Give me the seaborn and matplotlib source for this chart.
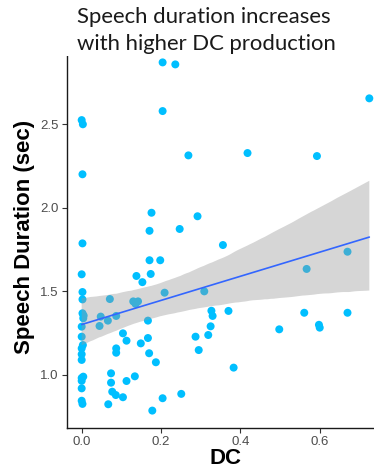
import numpy as np
import pandas as pd
import matplotlib
matplotlib.use("Agg")
import matplotlib.pyplot as plt
import seaborn as sns
from matplotlib.patches import Rectangle

# ---- data ----
dc_zero = [0.000, 0.003, 0.002, 0.002, 0.000, 0.002, 0.002, 0.002, 0.005, 0.004, 0.000,
           0.000, 0.003, 0.000, 0.000, 0.000, 0.004, 0.000, 0.000, 0.000, 0.000, 0.002]
dur_zero = [2.524, 2.499, 2.200, 1.787, 1.602, 1.496, 1.452, 1.369, 1.355, 1.339, 1.289,
            1.229, 1.179, 1.159, 1.124, 1.090, 0.990, 0.982, 0.965, 0.920, 0.846, 0.827]

dc_low = [0.048, 0.045, 0.066, 0.071, 0.087, 0.104, 0.113, 0.087, 0.087, 0.074, 0.074, 0.113,
          0.134, 0.077, 0.086, 0.104, 0.067, 0.138, 0.153, 0.130, 0.136, 0.142, 0.135]
dur_low = [1.349, 1.293, 1.325, 1.454, 1.353, 1.249, 1.205, 1.159, 1.133, 1.010, 0.954, 0.964,
           0.992, 0.900, 0.880, 0.867, 0.825, 1.592, 1.555, 1.440, 1.425, 1.440, 1.430]

dc_mid = [0.174, 0.149, 0.167, 0.167, 0.170, 0.187, 0.204, 0.178, 0.209, 0.176, 0.171,
          0.171, 0.198, 0.204, 0.204, 0.236]
dur_mid = [1.604, 1.189, 1.325, 1.221, 1.130, 1.076, 0.861, 0.787, 1.492, 1.970, 1.862,
           1.686, 1.686, 2.578, 2.869, 2.857]

dc_high = [0.247, 0.251, 0.269, 0.292, 0.356, 0.418, 0.593, 0.725, 0.670, 0.567, 0.309, 0.327,
           0.330, 0.370, 0.561, 0.670, 0.325, 0.598, 0.600, 0.498, 0.287, 0.319, 0.295, 0.383]
dur_high = [1.873, 0.887, 2.313, 1.949, 1.777, 2.327, 2.309, 2.654, 1.737, 1.634, 1.500, 1.384,
            1.353, 1.383, 1.372, 1.372, 1.291, 1.300, 1.283, 1.273, 1.229, 1.239, 1.149, 1.044]

x_ticks = [0.0, 0.2, 0.4, 0.6]
x_ticklabels = ["0.0", "0.2", "0.4", "0.6"]
y_ticks = [1.0, 1.5, 2.0, 2.5]
y_ticklabels = ["1.0", "1.5", "2.0", "2.5"]
title_lines = ["Speech duration increases", "with higher DC production"]
x_label = "DC"
y_label = "Speech Duration (sec)"

df = pd.DataFrame({
    "DC": dc_zero + dc_low + dc_mid + dc_high,
    "Duration": dur_zero + dur_low + dur_mid + dur_high,
})

# ---- figure ----
sns.set_theme(style="ticks")
plt.rcParams["font.family"] = ["Liberation Sans", "DejaVu Sans"]

W, H = 374, 471
fig = plt.figure(figsize=(W / 100, H / 100), dpi=100)
fig.patch.set_facecolor("white")

left_px, right_px, top_px, bottom_px = 67.0, 384.0, 45.0, 428.0
ax = fig.add_axes([left_px / W, 1 - bottom_px / H,
                   (right_px - left_px) / W, (bottom_px - top_px) / H])

sns.scatterplot(data=df, x="DC", y="Duration", ax=ax, color="#00BFFF",
                s=33, linewidth=0, edgecolor="none", alpha=1, zorder=2)

n_before = len(ax.collections)
sns.regplot(data=df, x="DC", y="Duration", ax=ax, scatter=False, ci=95,
            n_boot=2000, seed=3, truncate=True,
            line_kws={"color": "#3366FF", "linewidth": 1.2, "zorder": 4})
for coll in ax.collections[n_before:]:
    coll.set_facecolor("#999999")
    coll.set_alpha(0.4)
    coll.set_edgecolor("none")
    coll.set_zorder(3)

ax.set_xlim(-0.037, 0.762)
ax.set_ylim(0.683, 2.973)
ax.set_xticks(x_ticks)
ax.set_xticklabels(x_ticklabels)
ax.set_yticks(y_ticks)
ax.set_yticklabels(y_ticklabels)

for side in ["top", "right"]:
    ax.spines[side].set_visible(False)
for side in ["left", "bottom"]:
    ax.spines[side].set_color("#1a1a1a")
    ax.spines[side].set_linewidth(1.0)

ax.tick_params(axis="both", colors="#333333", labelcolor="#4D4D4D",
               length=3.5, width=0.8, labelsize=9.5, pad=2.5)

ax.set_xlabel(x_label, fontsize=16, fontweight="bold", color="black", labelpad=2)
ax.set_ylabel(y_label, fontsize=16, fontweight="bold", color="black", labelpad=6)
ax.xaxis.set_label_coords((226 - left_px) / (right_px - left_px), -(459 - bottom_px) / (bottom_px - top_px))
ax.yaxis.set_label_coords(-(67 - 24) / (right_px - left_px), 0.5)
ax.xaxis.label.set_va("center")
ax.yaxis.label.set_va("center")

# white box covering the top, with title overlaid
fig.patches.append(Rectangle((0, 1 - 55.5 / H), 1, 55.5 / H, transform=fig.transFigure,
                             facecolor="white", edgecolor="none", zorder=5))

title_kw = dict(fontfamily=["Lato", "DejaVu Sans"], color="#1a1a1a", ha="left",
                va="baseline", zorder=6)
t1 = fig.text(77 / W, 1 - 22.7 / H, title_lines[0], fontsize=15.5, **title_kw)
t2 = fig.text(77 / W, 1 - 50 / H, title_lines[1], fontsize=15.5, **title_kw)
fig.canvas.draw()
r = fig.canvas.get_renderer()
w1 = t1.get_window_extent(r).width
scale = 254.0 / w1
for t in (t1, t2):
    t.set_fontsize(15.5 * scale)

fig.savefig("out.png", dpi=100, facecolor="white")
